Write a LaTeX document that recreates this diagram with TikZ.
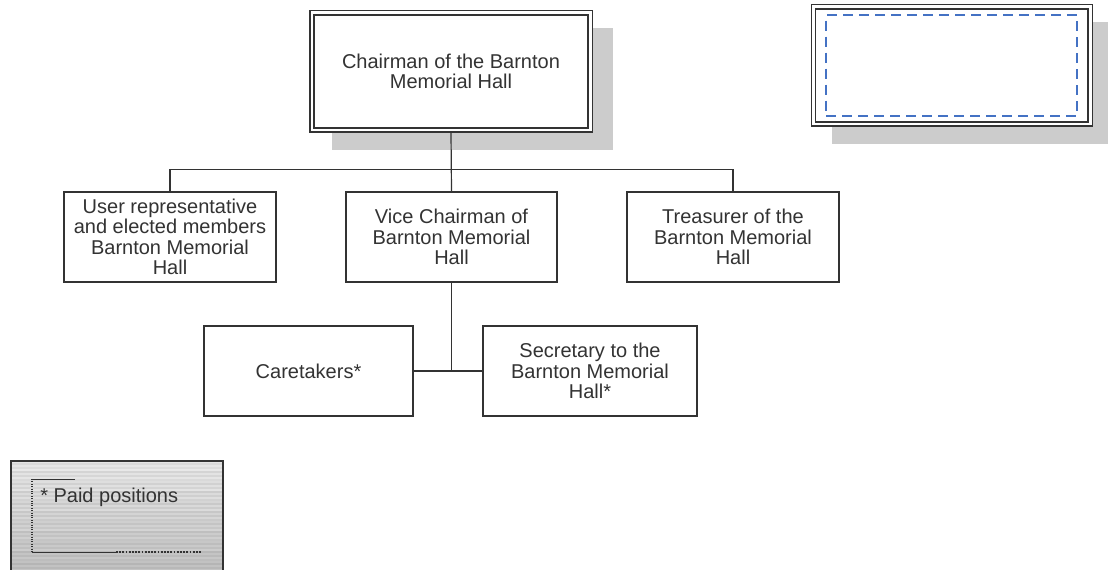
\documentclass[tikz,border=0pt]{standalone}
\usepackage{fontspec}
\setmainfont{Liberation Sans}
\definecolor{ink}{HTML}{333333}
\definecolor{shadowgray}{HTML}{CCCCCC}
\definecolor{dashblue}{HTML}{4472C4}
\begin{document}
\begin{tikzpicture}[x=0.75pt,y=-0.75pt,
  txt/.style={font=\fontsize{15}{15.4}\selectfont, text=ink},
  orgbox/.style={txt, draw=ink, line width=1pt, fill=white, align=center,
     inner sep=0pt, minimum height=67.5pt},
  dblbox/.style={txt, draw=ink, line width=1.1pt, fill=white, align=center, inner sep=0pt},
  outerline/.style={draw=ink, line width=1.1pt},
  link/.style={draw=ink, line width=0.9pt},
  shadowfill/.style={fill=shadowgray}]
\useasboundingbox (0,0) rectangle (1108,570);
\fill[white] (0,0) rectangle (1108,570);

% shadows
\fill[shadowfill] (332,28) rectangle (613,150);
\fill[shadowfill] (832,22) rectangle (1113,144);

% top nodes
\fill[white] (310,11) rectangle (592,132);
\node[dblbox, minimum width=205.5pt, minimum height=84.75pt] (chair) at (451,71.5)
  {Chairman of the Barnton\\Memorial Hall};
\draw[outerline] ([shift={(-3.5,-3.5)}]chair.north west) rectangle ([shift={(3.5,3.5)}]chair.south east);
\fill[white] (811,5) rectangle (1092,126);
\node[dblbox, minimum width=204.4pt, minimum height=84.75pt] (blank) at (951.75,65.5) {};
\draw[outerline] ([shift={(-3.5,-3.5)}]blank.north west) rectangle ([shift={(3.5,3.5)}]blank.south east);
\node[draw=dashblue, line width=1.6pt, dash pattern=on 7.5pt off 4.5pt,
  minimum width=188pt, minimum height=75.75pt, inner sep=0pt] (dashbox) at (951.5,65.5) {};

% second level
\node[orgbox, minimum width=159pt] (user) at (170,237)
  {User representative\\and elected members\\Barnton Memorial\\Hall};
\node[orgbox, minimum width=158.25pt] (vice) at (451.5,237)
  {Vice Chairman of\\Barnton Memorial\\Hall};
\node[orgbox, minimum width=159pt] (treas) at (733,237)
  {Treasurer of the\\Barnton Memorial\\Hall};

% third level
\node[orgbox, minimum width=156.75pt] (care) at (308.5,371) {Caretakers*};
\node[orgbox, minimum width=160.5pt] (sec) at (590,371)
  {Secretary to the\\Barnton Memorial\\Hall*};

% connectors
\draw[link] (chair.south) ++(0,3.5) -- (vice.north);
\draw[link] (user.north) -- ++(0,-22) -| (treas.north);
\draw[link] (vice.south) -- (vice.south |- care.east);
\draw[link] (care.east) -- (sec.west);

% legend
\begin{scope}
\clip (11,461) rectangle (223,570);
\fill[white!80!black] (11,461) rectangle (223,575);
\foreach \i in {0,...,56}{
  \pgfmathsetmacro\g{int(90 - 0.28*\i - 5*mod(\i,2) + 3*mod(\i,5)/4)}
  \draw[color=white!\g!black, line width=1.5pt] (11,462+2*\i) -- (223,462+2*\i);
}
\end{scope}
\draw[ink, line width=0.9pt] (11,575) -- (11,461) -- (223,461) -- (223,575);
\draw[ink, line width=0.6pt] (75,479) -- (32,479);
\draw[ink, line width=0.8pt, densely dotted] (32,479) -- (32,552);
\draw[ink, line width=0.6pt] (32,552) -- (116,552);
\draw[ink, line width=1.4pt, densely dotted] (116,552) -- (202,552);
\node[txt, anchor=west, inner sep=0pt] (legend) at (40,497) {* Paid positions};
\end{tikzpicture}
\end{document}
